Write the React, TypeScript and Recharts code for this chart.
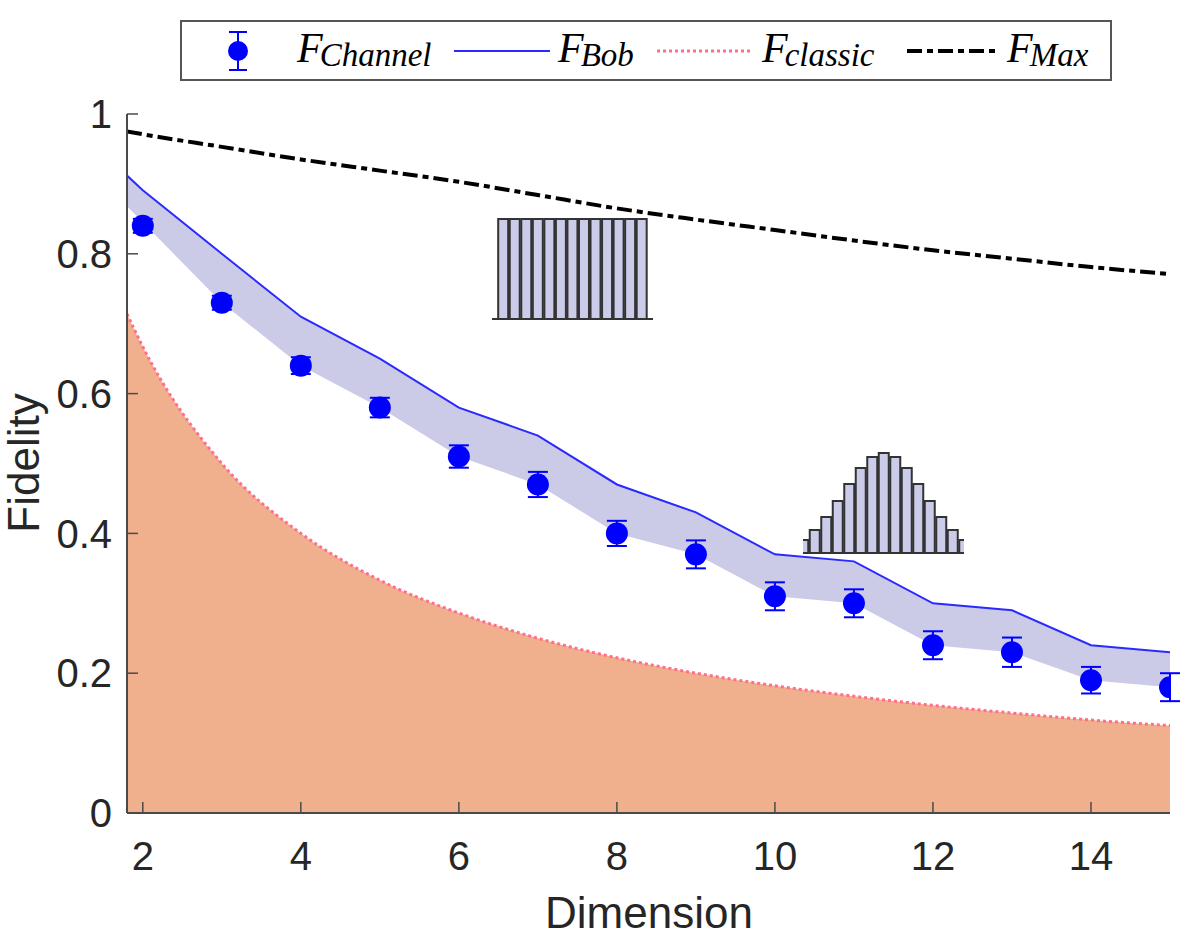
import React from "react";
import {
    Area,
    Bar,
    BarChart,
    ComposedChart,
    ErrorBar,
    Line,
    XAxis,
    YAxis,
} from "recharts";

// dimensions (x) and the values
const dims = [1.8, 2, 3, 4, 5, 6, 7, 8, 9, 10, 11, 12, 13, 14, 15];
const fChannel = [null, 0.84, 0.73, 0.64, 0.58, 0.51, 0.47, 0.4, 0.37, 0.31, 0.3, 0.24, 0.23, 0.19, 0.18];
const fChannelErr = [null, 0.01, 0.01, 0.012, 0.014, 0.016, 0.018, 0.018, 0.02, 0.02, 0.02, 0.02, 0.021, 0.019, 0.02];
const fBob = [0.912, 0.891, 0.8, 0.71, 0.65, 0.58, 0.54, 0.47, 0.43, 0.37, 0.36, 0.3, 0.29, 0.24, 0.23];
const bandLow = [0.868, 0.845, 0.73, 0.64, 0.58, 0.51, 0.47, 0.4, 0.37, 0.31, 0.3, 0.24, 0.23, 0.19, 0.18];
const fClassic = [0.714, 0.667, 0.5, 0.4, 0.333, 0.286, 0.25, 0.222, 0.2, 0.182, 0.167, 0.154, 0.143, 0.133, 0.125];
const fMax = [0.975, 0.971, 0.953, 0.935, 0.919, 0.903, 0.884, 0.865, 0.849, 0.834, 0.819, 0.805, 0.793, 0.781, 0.771];

const xTicks = [2, 4, 6, 8, 10, 12, 14];
const yTicks = [0, 0.2, 0.4, 0.6, 0.8, 1];

// inset histograms
const uniformBars = [1, 1, 1, 1, 1, 1, 1, 1, 1, 1, 1, 1, 1];
const bellBars = [0.13, 0.23, 0.36, 0.52, 0.69, 0.85, 0.96, 1, 0.96, 0.85, 0.69, 0.52, 0.36, 0.23, 0.13];

const rows = dims.map((d, i) => ({
    d,
    channel: fChannel[i],
    err: fChannelErr[i],
    bob: fBob[i],
    band: [bandLow[i], fBob[i]],
    classic: fClassic[i],
    max: fMax[i],
}));

const uniformRows = uniformBars.map((h, k) => ({ k, h }));
const bellRows = bellBars.map((h, k) => ({ k, h }));

const SANS = "'Liberation Sans', Arial, Helvetica, sans-serif";
const SERIF = "'Liberation Serif', 'Times New Roman', serif";
const AXIS = "#4a4a4a";
const TEXT = "#262626";

const tickStyle = { fontSize: 40, fill: TEXT, fontFamily: SANS };

const Inset = ({ data, domain, left, top }: any) => (
    <div style={{ position: "absolute", left, top }}>
        <BarChart width={161} height={104} data={data} margin={{ top: 2, right: 0, bottom: 0, left: 0 }}>
            <XAxis
                dataKey="k"
                type="number"
                domain={domain}
                allowDataOverflow
                tick={false}
                tickLine={false}
                height={2}
                axisLine={{ stroke: "#333", strokeWidth: 2 }}
            />
            <YAxis hide domain={[0, 1]} />
            <Bar dataKey="h" fill="#cbcbea" stroke="#333" strokeWidth={2} barSize={10} isAnimationActive={false} />
        </BarChart>
    </div>
);

const LegendEntry = ({ x, sub }: any) => (
    <text x={x} y={62} fontFamily={SERIF} fontStyle="italic" fontSize={42} fill="#000">
        F<tspan fontSize={33} dx={-3} dy={4}>{sub}</tspan>
    </text>
);

const LegendBox = () => (
    <svg width={1196} height={947} style={{ position: "absolute", left: 0, top: 0, pointerEvents: "none" }}>
        <rect x={181} y={21} width={930} height={59} fill="#fff" stroke="#555" strokeWidth={2} />
        {/* F_Channel */}
        <line x1={238} y1={32} x2={238} y2={70} stroke="#0000ff" strokeWidth={2} />
        <line x1={229} y1={32} x2={247} y2={32} stroke="#0000ff" strokeWidth={2} />
        <line x1={229} y1={70} x2={247} y2={70} stroke="#0000ff" strokeWidth={2} />
        <circle cx={238} cy={51} r={10} fill="#0000ff" />
        <LegendEntry x={297} sub="Channel" />
        {/* F_Bob */}
        <line x1={454} y1={51} x2={550} y2={51} stroke="#2a2aff" strokeWidth={2} />
        <LegendEntry x={558} sub="Bob" />
        {/* F_classic */}
        <line x1={657} y1={51} x2={752} y2={51} stroke="#ff6f8c" strokeWidth={3} strokeDasharray="3 3" />
        <LegendEntry x={762} sub="classic" />
        {/* F_Max */}
        <line x1={907} y1={51} x2={998} y2={51} stroke="#000" strokeWidth={4} strokeDasharray="15 5 6 5" />
        <LegendEntry x={1007} sub="Max" />
        {/* axis titles */}
        <text x={649} y={928} textAnchor="middle" fontFamily={SANS} fontSize={44} fill={TEXT}>
            Dimension
        </text>
        <text x={39} y={463} transform="rotate(-90 39 463)" textAnchor="middle" fontFamily={SANS} fontSize={44} fill={TEXT}>
            Fidelity
        </text>
    </svg>
);

const App = () => {
    return (
        <div style={{ position: "absolute", left: 0, top: 0, width: 1196, height: 947, background: "#fff" }}>
            <ComposedChart width={1196} height={947} data={rows} margin={{ top: 114, right: 26, bottom: 74, left: 67 }}>
                <XAxis
                    dataKey="d"
                    type="number"
                    domain={[1.8, 15]}
                    allowDataOverflow
                    ticks={xTicks}
                    height={60}
                    tickSize={-11}
                    tickMargin={40}
                    tick={tickStyle}
                    axisLine={{ stroke: AXIS, strokeWidth: 2 }}
                    tickLine={{ stroke: AXIS, strokeWidth: 1.5 }}
                />
                <XAxis
                    xAxisId="top"
                    orientation="top"
                    dataKey="d"
                    type="number"
                    domain={[1.8, 15]}
                    allowDataOverflow
                    ticks={xTicks}
                    height={0}
                    tickSize={-11}
                    tick={false}
                    axisLine={{ stroke: AXIS, strokeWidth: 2 }}
                    tickLine={{ stroke: AXIS, strokeWidth: 1.5 }}
                />
                <YAxis
                    type="number"
                    domain={[0, 1]}
                    ticks={yTicks}
                    width={60}
                    tickSize={-11}
                    tickMargin={26}
                    tick={tickStyle}
                    axisLine={{ stroke: AXIS, strokeWidth: 2 }}
                    tickLine={{ stroke: AXIS, strokeWidth: 1.5 }}
                />
                <YAxis
                    yAxisId="right"
                    orientation="right"
                    type="number"
                    domain={[0, 1]}
                    ticks={yTicks}
                    width={0}
                    tickSize={-11}
                    tick={false}
                    axisLine={{ stroke: AXIS, strokeWidth: 2 }}
                    tickLine={{ stroke: AXIS, strokeWidth: 1.5 }}
                />
                <Area
                    type="monotone"
                    dataKey="classic"
                    fill="#f0b08e"
                    fillOpacity={1}
                    stroke="#ff6f8c"
                    strokeWidth={3}
                    strokeDasharray="3 3"
                    isAnimationActive={false}
                />
                <Area
                    type="linear"
                    dataKey="band"
                    fill="#cbcbe8"
                    fillOpacity={1}
                    stroke="none"
                    isAnimationActive={false}
                />
                <Line type="linear" dataKey="bob" stroke="#2a2aff" strokeWidth={2} dot={false} isAnimationActive={false} />
                <Line
                    type="monotone"
                    dataKey="max"
                    stroke="#000"
                    strokeWidth={4}
                    strokeDasharray="15 5 6 5"
                    dot={false}
                    isAnimationActive={false}
                />
                <Line
                    dataKey="channel"
                    stroke="none"
                    dot={{ r: 11, fill: "#0000ff", stroke: "none" }}
                    activeDot={false}
                    isAnimationActive={false}
                >
                    <ErrorBar dataKey="err" direction="y" width={10} stroke="#0000ff" strokeWidth={2} />
                </Line>
            </ComposedChart>
            <Inset data={uniformRows} domain={[-0.95, 13]} left={492} top={217} />
            <Inset data={bellRows} domain={[0, 14]} left={803} top={451} />
            <LegendBox />
        </div>
    );
};

export default App;
